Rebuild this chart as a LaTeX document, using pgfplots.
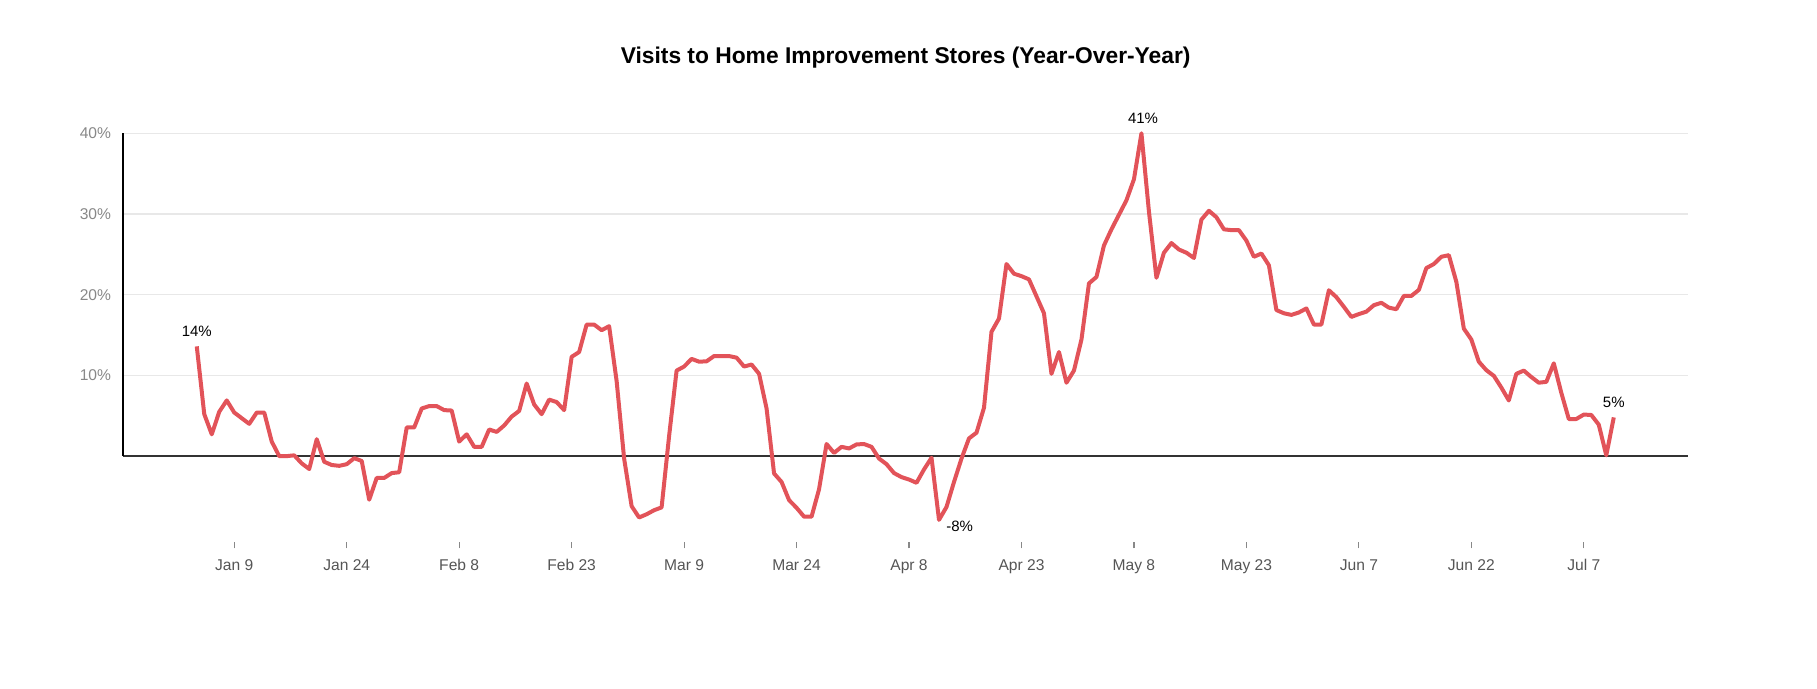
\documentclass[border=0pt]{standalone}
\usepackage{pgfplots}
\pgfplotsset{compat=1.18}
\usepackage{fontspec}
\setmainfont{Liberation Sans}
\definecolor{linered}{RGB}{226,83,89}
\definecolor{gridgray}{RGB}{232,232,232}
\definecolor{ylab}{RGB}{136,136,136}
\definecolor{xlab}{RGB}{85,85,85}
\begin{document}
\begin{tikzpicture}
\useasboundingbox (-61.65pt,-73.65pt) rectangle (846.85pt,270.85pt);
\begin{axis}[
  at={(0pt,0pt)}, anchor=south west,
  scale only axis, width=782.35pt, height=204.2pt,
  xmin=-6.8, xmax=201.9, ymin=-10.6, ymax=40,
  axis x line*=bottom, axis y line*=left,
  axis line style={draw=none},
  xtick={8,23,38,53,68,83,98,113,128,143,158,173,188},
  xticklabels={Jan 9,Jan 24,Feb 8,Feb 23,Mar 9,Mar 24,Apr 8,Apr 23,May 8,May 23,Jun 7,Jun 22,Jul 7},
  ytick={10,20,30,40},
  yticklabels={10\%,20\%,30\%,40\%},
  ymajorgrids, grid style={gridgray, line width=0.6pt},
  tick align=outside, major tick length=3.3pt,
  xtick style={ylab, line width=0.6pt},
  ytick style={draw=none},
  xticklabel style={font=\fontsize{7.8}{9}\selectfont, text=xlab, anchor=north, inner sep=0pt, yshift=-5.45pt},
  yticklabel style={font=\fontsize{7.8}{9}\selectfont, text=ylab, anchor=east, inner sep=0pt, xshift=-2.65pt},
  clip=false,
]
\draw[black!80, line width=0.8pt] (axis cs:-6.8,0) -- (axis cs:201.9,0);
\draw[black, line width=1.1pt] (axis cs:-6.8,0) -- (axis cs:-6.8,40);
\addplot[linered, line width=2pt, line join=round, mark=none] table {
x y
3 13.6
4 5.2
5 2.7
6 5.5
7 6.9
8 5.4
9 4.7
10 4.0
11 5.4
12 5.4
13 1.8
14 0.0
15 0.0
16 0.1
17 -0.9
18 -1.6
19 2.1
20 -0.7
21 -1.1
22 -1.2
23 -1.0
24 -0.25
25 -0.6
26 -5.4
27 -2.7
28 -2.7
29 -2.1
30 -2.0
31 3.55
32 3.55
33 5.9
34 6.2
35 6.2
36 5.7
37 5.65
38 1.8
39 2.7
40 1.15
41 1.15
42 3.3
43 3.0
44 3.8
45 4.9
46 5.6
47 9.0
48 6.4
49 5.2
50 7.0
51 6.7
52 5.7
53 12.3
54 12.9
55 16.3
56 16.3
57 15.6
58 16.1
59 9.3
60 -0.3
61 -6.2
62 -7.6
63 -7.2
64 -6.7
65 -6.35
66 2.5
67 10.6
68 11.1
69 12.05
70 11.7
71 11.75
72 12.4
73 12.4
74 12.4
75 12.2
76 11.1
77 11.35
78 10.2
79 5.9
80 -2.15
81 -3.2
82 -5.45
83 -6.4
84 -7.5
85 -7.5
86 -4.1
87 1.5
88 0.4
89 1.15
90 0.95
91 1.45
92 1.5
93 1.15
94 -0.3
95 -1.0
96 -2.1
97 -2.6
98 -2.9
99 -3.3
100 -1.65
101 -0.2
102 -7.9
103 -6.3
104 -3.2
105 -0.3
106 2.2
107 2.9
108 6.0
109 15.4
110 17.05
111 23.8
112 22.6
113 22.3
114 21.9
115 19.8
116 17.7
117 10.2
118 12.9
119 9.1
120 10.6
121 14.45
122 21.4
123 22.2
124 26.1
125 28.1
126 29.9
127 31.7
128 34.3
129 40.0
130 30.3
131 22.1
132 25.2
133 26.4
134 25.6
135 25.2
136 24.55
137 29.3
138 30.4
139 29.6
140 28.1
141 28.0
142 28.0
143 26.7
144 24.7
145 25.1
146 23.65
147 18.1
148 17.7
149 17.5
150 17.8
151 18.3
152 16.3
153 16.3
154 20.55
155 19.7
156 18.5
157 17.25
158 17.6
159 17.9
160 18.7
161 19.0
162 18.4
163 18.2
164 19.85
165 19.85
166 20.6
167 23.3
168 23.8
169 24.7
170 24.9
171 21.6
172 15.8
173 14.45
174 11.7
175 10.65
176 9.95
177 8.5
178 6.9
179 10.2
180 10.6
181 9.8
182 9.1
183 9.2
184 11.5
185 7.85
186 4.6
187 4.6
188 5.15
189 5.1
190 3.9
191 0.1
192 4.8
};
\node[font=\fontsize{7.5}{9}\selectfont, anchor=center, yshift=7.5pt] at (axis cs:3,13.6) {14\%};
\node[font=\fontsize{7.5}{9}\selectfont, anchor=center, yshift=7.5pt, xshift=0.8pt] at (axis cs:129,40) {41\%};
\node[font=\fontsize{7.5}{9}\selectfont, anchor=center, yshift=-3pt, xshift=10.35pt] at (axis cs:102,-7.9) {-8\%};
\node[font=\fontsize{7.5}{9}\selectfont, anchor=center, yshift=7.6pt] at (axis cs:192,4.8) {5\%};
\node[font=\fontsize{11.4}{13}\selectfont\bfseries, anchor=center, yshift=37.9pt] at (rel axis cs:0.5,1) {Visits to Home Improvement Stores (Year-Over-Year)};
\end{axis}
\end{tikzpicture}
\end{document}
